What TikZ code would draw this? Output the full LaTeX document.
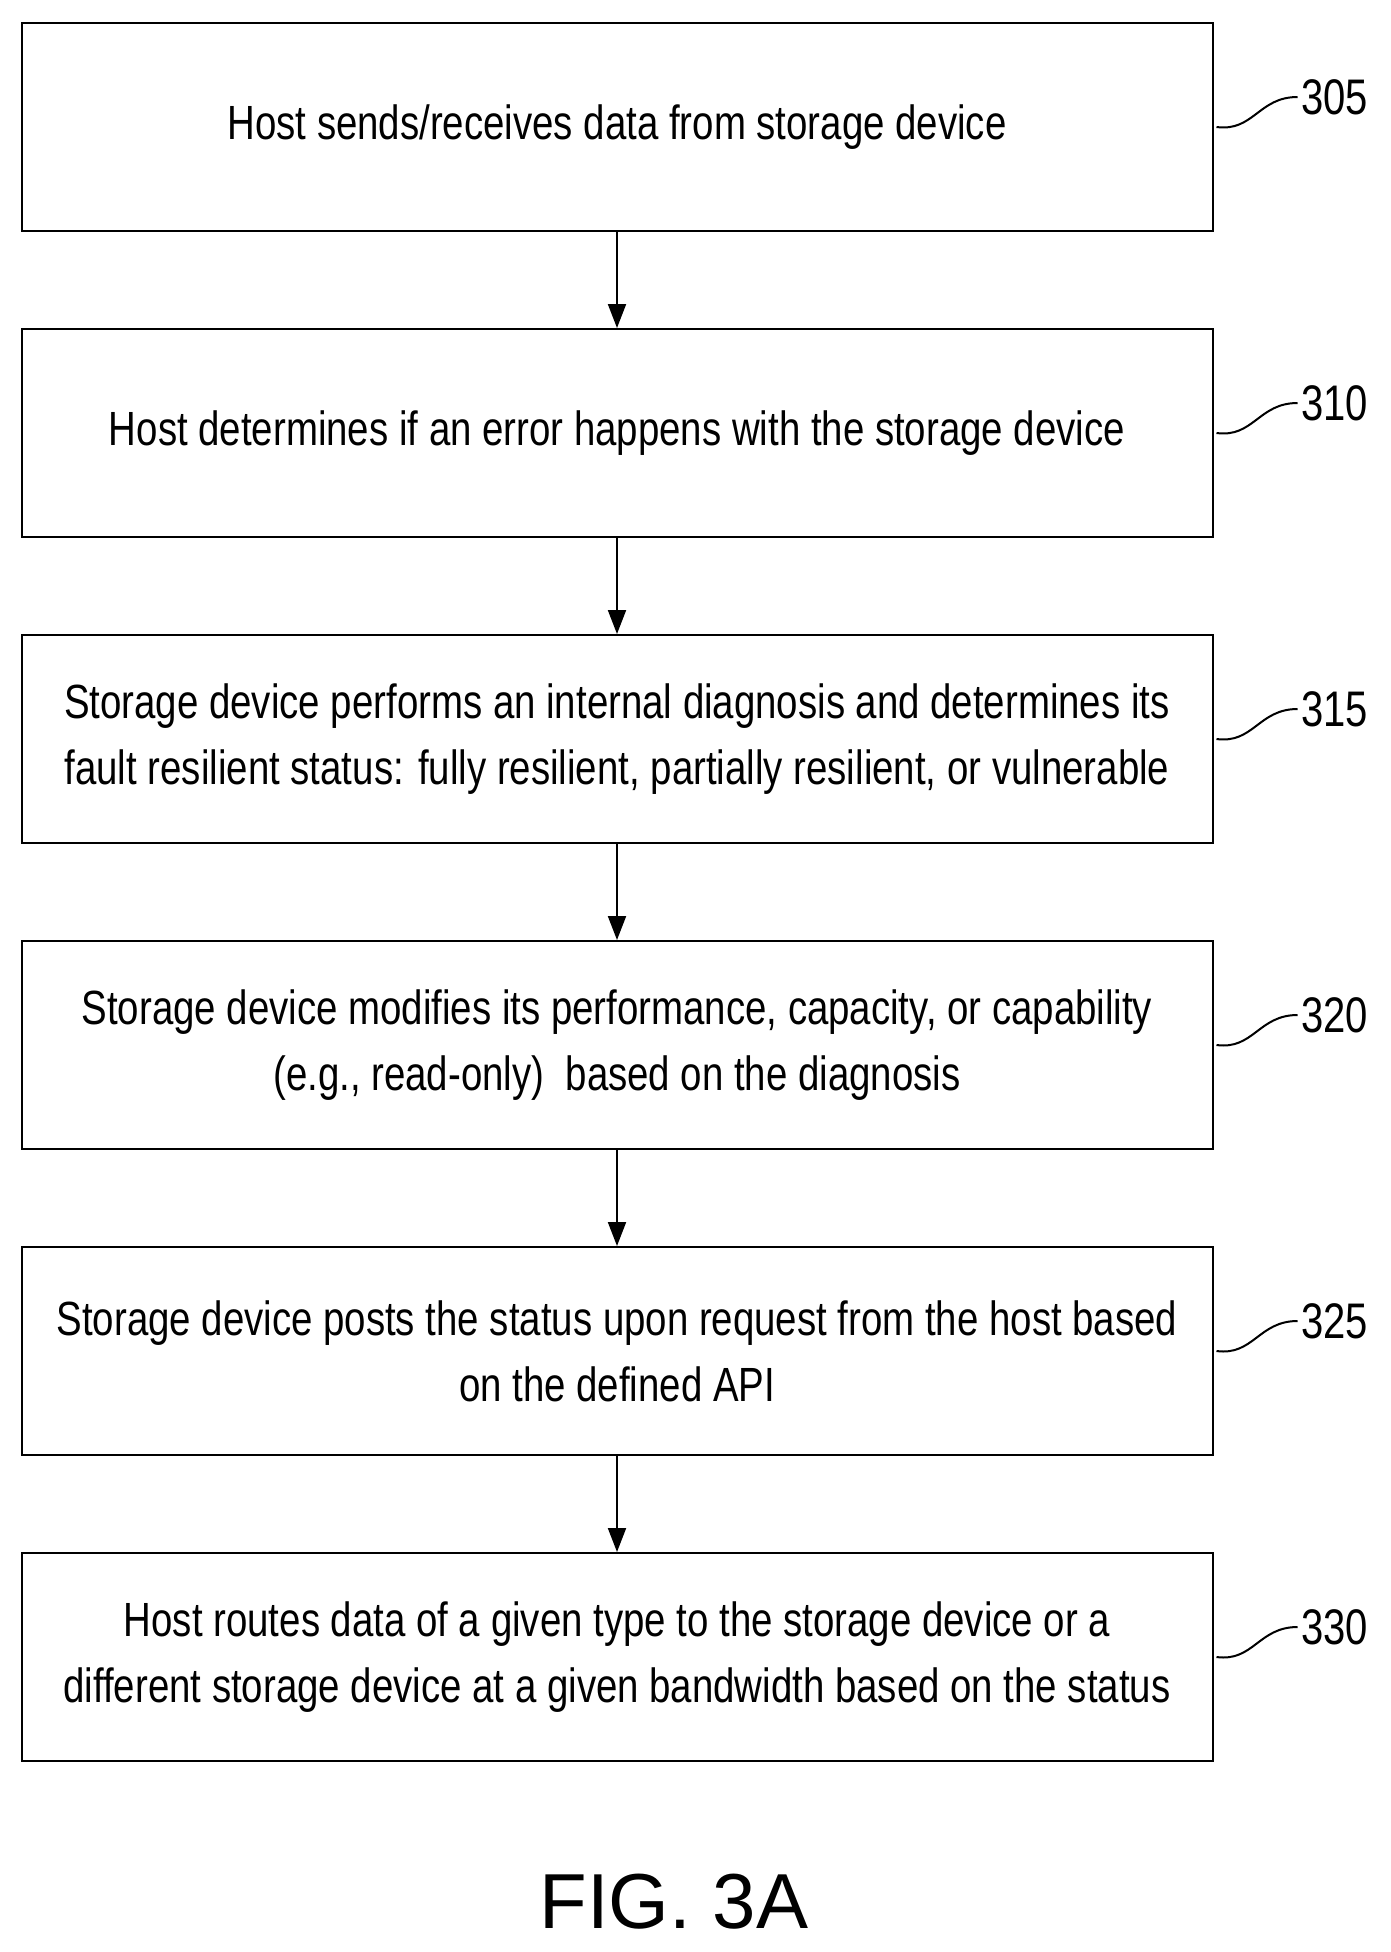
\documentclass[tikz,border=0pt]{standalone}
\usepackage{fontspec}
\setmainfont{Liberation Sans}[FakeStretch=0.8]
\newfontfamily\figfont{Liberation Sans}
\usetikzlibrary{positioning,arrows.meta}
\tikzset{
  stepbox/.style={draw, line width=2pt, minimum width=1191pt, minimum height=208pt,
    align=center, font=\fontsize{48pt}{66pt}\selectfont, inner sep=0pt},
  flow/.style={-{Triangle[length=24pt,width=18pt]}, line width=2pt},
  ref/.style={font=\fontsize{50pt}{60pt}\selectfont},
  lead/.style={line width=2pt}
}
\begin{document}
\begin{tikzpicture}[x=1pt,y=1pt]
\useasboundingbox (0,0) rectangle (1391,-1952);
\node[stepbox] (s305) at (617,-127) {Host sends/receives data from storage device};
\node[stepbox, below=96pt of s305] (s310) {Host determines if an error happens with the storage device};
\node[stepbox, below=96pt of s310] (s315) {Storage device performs an internal diagnosis and determines its\\fault resilient status: fully resilient, partially resilient, or vulnerable};
\node[stepbox, below=96pt of s315] (s320) {Storage device modifies its performance, capacity, or capability\\(e.g., read-only)\ \ based on the diagnosis};
\node[stepbox, below=96pt of s320] (s325) {Storage device posts the status upon request from the host based\\on the defined API};
\node[stepbox, below=96pt of s325] (s330) {Host routes data of a given type to the storage device or a\\different storage device at a given bandwidth based on the status};
\foreach \a/\b in {s305/s310,s310/s315,s315/s320,s320/s325,s325/s330}
  \draw[flow] (\a) -- (\b);
\foreach \s in {305,310,315,320,325,330}{
  \node[ref, anchor=west] (l\s) at ([xshift=84pt,yshift=30pt]s\s.east) {\s};
  \draw[lead] ([xshift=3pt]s\s.east) .. controls ([xshift=40pt,yshift=-5pt]s\s.east) and ([xshift=45pt,yshift=30pt]s\s.east) .. (l\s.west);
}
\node[font=\figfont\fontsize{78pt}{90pt}\selectfont] (fig) at (674,-1902) {FIG. 3A};
\end{tikzpicture}
\end{document}
